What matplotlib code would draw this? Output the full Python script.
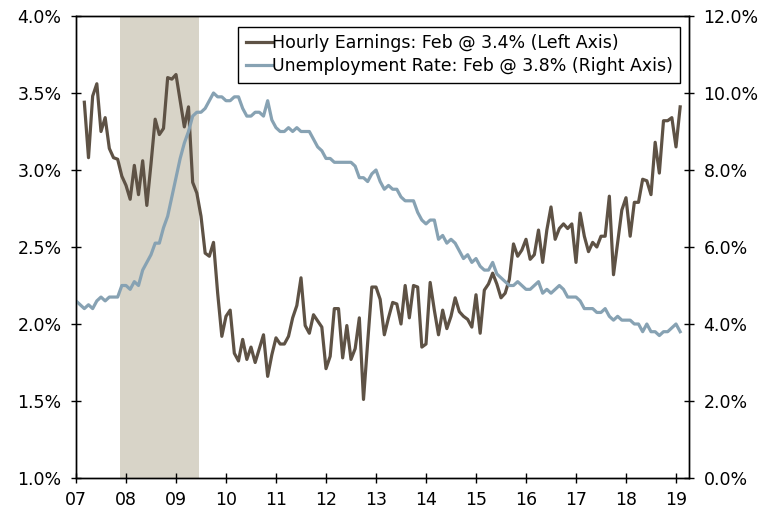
import numpy as np
import matplotlib
matplotlib.use("Agg")
import matplotlib.pyplot as plt
from matplotlib.ticker import FuncFormatter

# ---- data ----
# Average hourly earnings, y/y % (Mar 2007 .. Feb 2019), left axis
earnings_start = (2007, 3)
earnings = [
    3.44, 3.08, 3.48, 3.56, 3.25, 3.34, 3.14, 3.08, 3.07, 2.96,          # 2007 Mar-Dec
    2.90, 2.81, 3.03, 2.84, 3.06, 2.77, 3.04, 3.33, 3.23, 3.27, 3.60, 3.59,  # 2008
    3.62, 3.45, 3.28, 3.41, 2.92, 2.85, 2.70, 2.46, 2.44, 2.53, 2.20, 1.92,  # 2009
    2.05, 2.09, 1.81, 1.76, 1.90, 1.77, 1.85, 1.75, 1.84, 1.93, 1.66, 1.80,  # 2010
    1.91, 1.87, 1.87, 1.92, 2.04, 2.12, 2.30, 1.99, 1.94, 2.06, 2.02, 1.98,  # 2011
    1.71, 1.79, 2.10, 2.10, 1.78, 1.99, 1.77, 1.84, 2.04, 1.51, 1.88, 2.24,  # 2012
    2.24, 2.16, 1.93, 2.04, 2.14, 2.13, 2.00, 2.25, 2.04, 2.25, 2.24, 1.85,  # 2013
    1.87, 2.27, 2.09, 1.93, 2.09, 1.97, 2.05, 2.17, 2.08, 2.05, 2.03, 1.98,  # 2014
    2.19, 1.94, 2.22, 2.26, 2.33, 2.26, 2.17, 2.20, 2.29, 2.52, 2.44, 2.48,  # 2015
    2.55, 2.42, 2.45, 2.61, 2.40, 2.61, 2.76, 2.55, 2.62, 2.65, 2.62, 2.65,  # 2016
    2.40, 2.72, 2.57, 2.47, 2.53, 2.50, 2.57, 2.57, 2.83, 2.32, 2.53, 2.74,  # 2017
    2.82, 2.57, 2.79, 2.79, 2.94, 2.93, 2.84, 3.18, 2.98, 3.32, 3.32, 3.34,  # 2018
    3.15, 3.41,                                                          # 2019
]

# Unemployment rate, % (Jan 2007 .. Feb 2019), right axis
unemp_start = (2007, 1)
unemployment = [
    4.6, 4.5, 4.4, 4.5, 4.4, 4.6, 4.7, 4.6, 4.7, 4.7, 4.7, 5.0,
    5.0, 4.9, 5.1, 5.0, 5.4, 5.6, 5.8, 6.1, 6.1, 6.5, 6.8, 7.3,
    7.8, 8.3, 8.7, 9.0, 9.4, 9.5, 9.5, 9.6, 9.8, 10.0, 9.9, 9.9,
    9.8, 9.8, 9.9, 9.9, 9.6, 9.4, 9.4, 9.5, 9.5, 9.4, 9.8, 9.3,
    9.1, 9.0, 9.0, 9.1, 9.0, 9.1, 9.0, 9.0, 9.0, 8.8, 8.6, 8.5,
    8.3, 8.3, 8.2, 8.2, 8.2, 8.2, 8.2, 8.1, 7.8, 7.8, 7.7, 7.9,
    8.0, 7.7, 7.5, 7.6, 7.5, 7.5, 7.3, 7.2, 7.2, 7.2, 6.9, 6.7,
    6.6, 6.7, 6.7, 6.2, 6.3, 6.1, 6.2, 6.1, 5.9, 5.7, 5.8, 5.6,
    5.7, 5.5, 5.4, 5.4, 5.6, 5.3, 5.2, 5.1, 5.0, 5.0, 5.1, 5.0,
    4.9, 4.9, 5.0, 5.1, 4.8, 4.9, 4.8, 4.9, 5.0, 4.9, 4.7, 4.7,
    4.7, 4.6, 4.4, 4.4, 4.4, 4.3, 4.3, 4.4, 4.2, 4.1, 4.2, 4.1,
    4.1, 4.1, 4.0, 4.0, 3.8, 4.0, 3.8, 3.8, 3.7, 3.8, 3.8, 3.9,
    4.0, 3.8,
]

recession = (2007.88, 2009.46)
year_ticks = list(range(2007, 2020))
year_labels = ["07", "08", "09", "10", "11", "12", "13", "14", "15", "16", "17", "18", "19"]
left_ticks = [1.0, 1.5, 2.0, 2.5, 3.0, 3.5, 4.0]
right_ticks = [0, 2, 4, 6, 8, 10, 12]
legend_labels = ["Hourly Earnings: Feb @ 3.4% (Left Axis)",
                 "Unemployment Rate: Feb @ 3.8% (Right Axis)"]

def month_axis(start, n):
    y0, m0 = start
    return y0 + (m0 - 1) / 12 + np.arange(n) / 12

x_earn = month_axis(earnings_start, len(earnings))
x_unemp = month_axis(unemp_start, len(unemployment))

# ---- style ----
BROWN = "#5e5245"
BLUE = "#87a2b3"
SHADE = "#d8d4c8"
FS = 12.5
plt.rcParams["font.family"] = ["DejaVu Sans"]

fig = plt.figure(figsize=(7.77, 5.11), dpi=100)
ax = fig.add_axes([76 / 777, 1 - 478 / 511, (689 - 76) / 777, (478 - 16) / 511])
ax2 = ax.twinx()

ax.axvspan(recession[0], recession[1], color=SHADE, lw=0, zorder=0)
l1, = ax.plot(x_earn, earnings, color=BROWN, lw=2.3, zorder=3,
              solid_joinstyle="round")
l2, = ax2.plot(x_unemp, unemployment, color=BLUE, lw=2.3, zorder=2,
               solid_joinstyle="round")

ax.set_xlim(2007, 2019.26)
ax.set_ylim(1.0, 4.0)
ax2.set_ylim(0, 12)

ax.set_xticks(year_ticks)
ax.set_xticklabels(year_labels)
ax.set_yticks(left_ticks)
ax.yaxis.set_major_formatter(FuncFormatter(lambda v, p: f"{v:.1f}%"))
ax2.set_yticks(right_ticks)
ax2.yaxis.set_major_formatter(FuncFormatter(lambda v, p: f"{v:.1f}%"))

for a in (ax, ax2):
    a.tick_params(direction="inout", length=7, width=1, colors="black",
                  labelsize=FS, color="black")
    for s in a.spines.values():
        s.set_color("black")
        s.set_linewidth(1)
ax.tick_params(axis="y", pad=7)
ax.tick_params(axis="x", pad=6)
ax2.tick_params(axis="y", pad=7)

leg = ax2.legend([l1, l2], legend_labels, loc="upper right",
                 bbox_to_anchor=(0.986, 0.977), fontsize=FS,
                 frameon=True, fancybox=False, framealpha=1,
                 edgecolor="black", handlelength=1.5, handletextpad=0.0,
                 borderpad=0.45, labelspacing=0.25, borderaxespad=0)
leg.get_frame().set_linewidth(1)

fig.savefig("out.png", dpi=100)
